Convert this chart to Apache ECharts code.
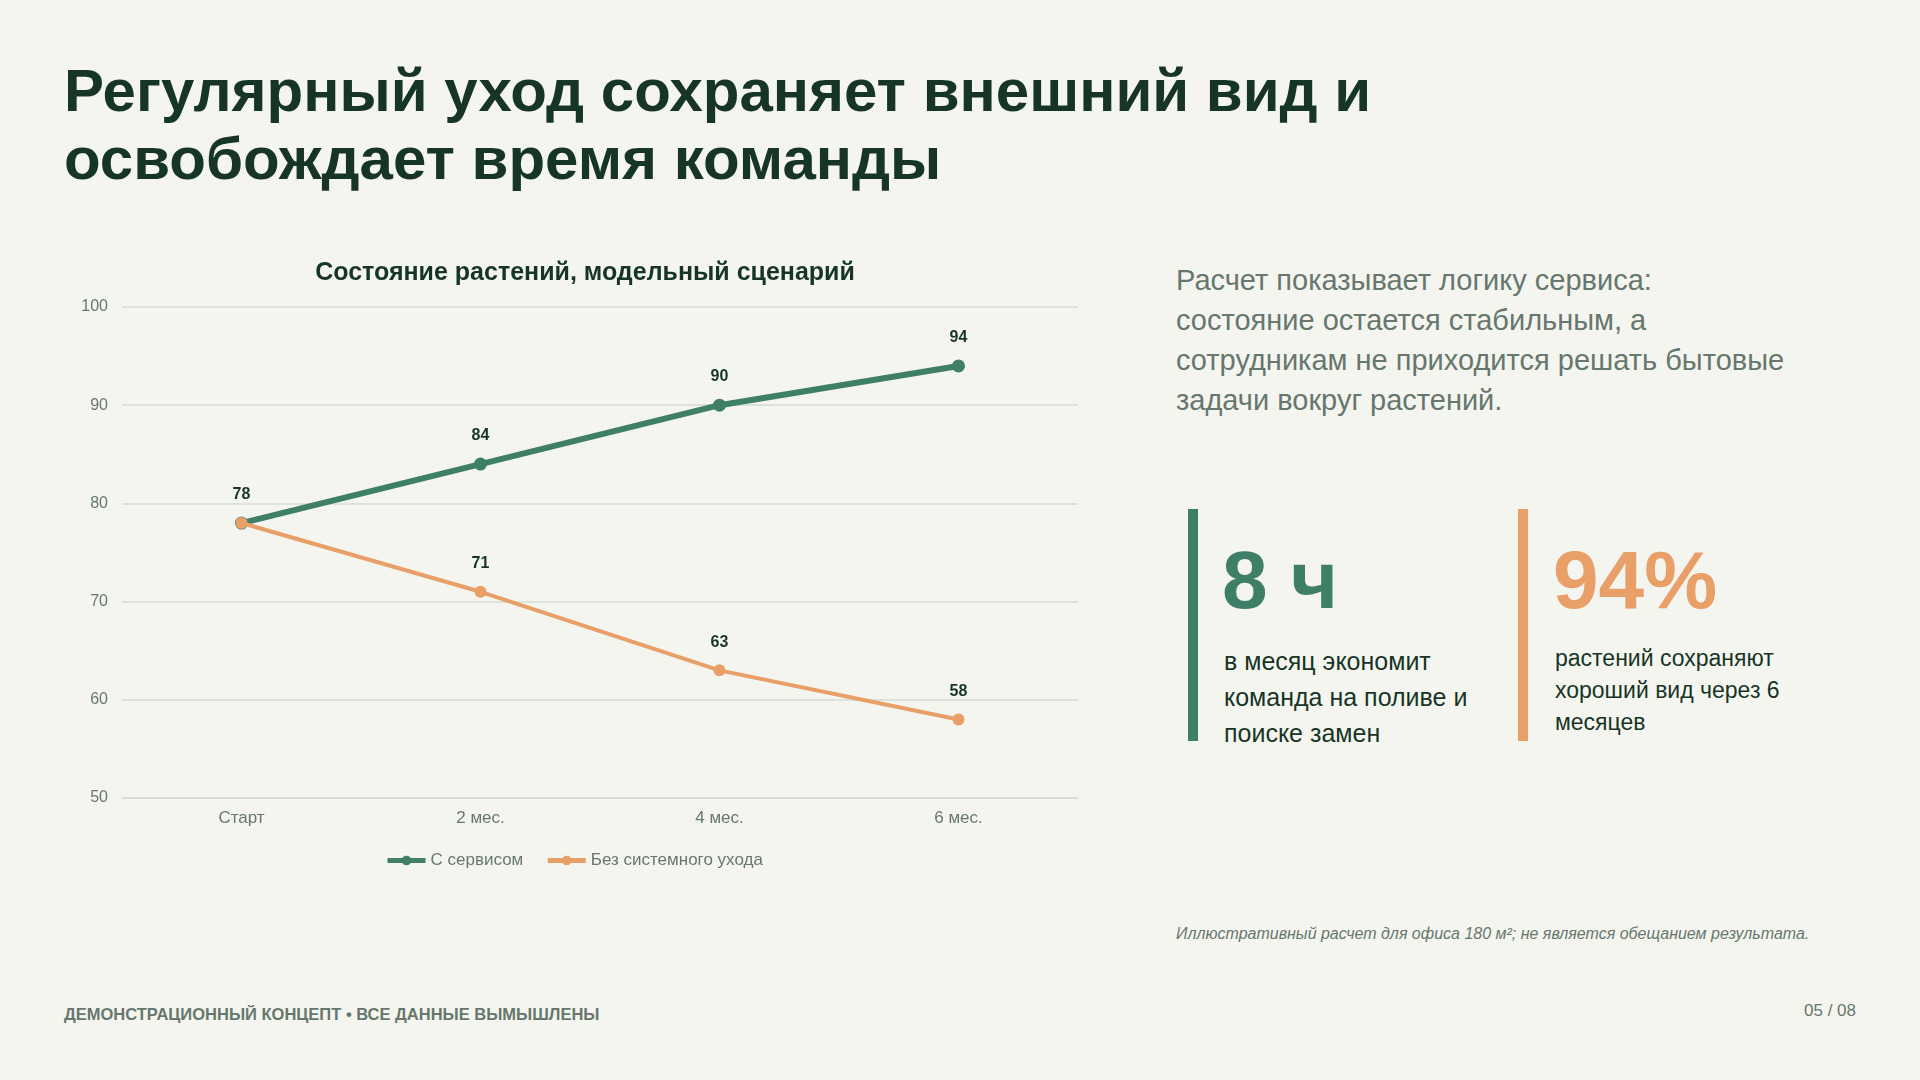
<!DOCTYPE html>
<html><head><meta charset="utf-8">
<script src="https://cdn.jsdelivr.net/npm/echarts@6/dist/echarts.min.js"></script>
<style>
body{margin:0;width:1920px;height:1080px;background:#f5f5f0;font-family:"Liberation Sans",Arial,sans-serif;position:relative;overflow:hidden;color:#173526}
.abs{position:absolute}
h1{position:absolute;left:64px;top:57px;margin:0;font-size:60px;line-height:68px;font-weight:bold;color:#173526}
.lead{left:1176px;top:260px;width:650px;font-size:29px;line-height:40px;color:#66776d}
.bar{width:10px}
.big{font-size:82px;font-weight:bold;line-height:80px}
</style></head><body>
<h1>Регулярный уход сохраняет внешний вид и<br>освобождает время команды</h1>
<div id="chart" class="abs" style="left:0;top:240px;width:1100px;height:650px"></div>
<div class="abs lead">Расчет показывает логику сервиса:<br>состояние остается стабильным, а<br>сотрудникам не приходится решать бытовые<br>задачи вокруг растений.</div>
<div class="abs bar" style="left:1188px;top:509px;height:232px;background:#3f7f67"></div>
<div class="abs big" style="left:1222px;top:540px;color:#3f7f67">8 ч</div>
<div class="abs" style="left:1224px;top:643px;width:300px;font-size:25px;line-height:36px">в месяц экономит команда на поливе и поиске замен</div>
<div class="abs bar" style="left:1518px;top:509px;height:232px;background:#e89f68"></div>
<div class="abs big" style="left:1553px;top:540px;color:#e89f68">94%</div>
<div class="abs" style="left:1555px;top:642px;width:290px;font-size:23px;line-height:32px">растений сохраняют хороший вид через 6 месяцев</div>
<div class="abs" style="left:1176px;top:923px;width:640px;font-size:16px;line-height:22px;font-style:italic;color:#66776d">Иллюстративный расчет для офиса 180 м²; не является обещанием результата.</div>
<div class="abs" style="left:64px;top:1005px;font-size:16.5px;font-weight:bold;color:#66776d">ДЕМОНСТРАЦИОННЫЙ КОНЦЕПТ • ВСЕ ДАННЫЕ ВЫМЫШЛЕНЫ</div>
<div class="abs" style="right:64px;top:1001px;font-size:17px;color:#66776d">05 / 08</div>
<script>
var categories = ['Старт', '2 мес.', '4 мес.', '6 мес.'];
var withService = [78, 84, 90, 94];
var noCare = [78, 71, 63, 58];
var GREEN = '#3f7f67', ORANGE = '#e89f68';

var chart = echarts.init(document.getElementById('chart'));
chart.setOption({
	animation: false,
	title: {
		text: 'Состояние растений, модельный сценарий',
		left: 580, textAlign: 'center', top: 16,
		textStyle: { fontSize: 25, fontWeight: 'bold', color: '#173526', fontFamily: 'Liberation Sans' }
	},
	grid: { left: 122, right: 22, top: 67, height: 491 },
	legend: {
		top: 607, left: 380,
		itemWidth: 38, itemHeight: 12, itemGap: 22,
		lineStyle: { width: 5 },
		textStyle: { fontSize: 17, color: '#66776d', fontFamily: 'Liberation Sans' },
		data: ['С сервисом', 'Без системного ухода']
	},
	xAxis: {
		type: 'category', data: categories, boundaryGap: true,
		axisLine: { lineStyle: { color: '#cfd8d2' } }, axisTick: { show: false },
		axisLabel: { fontSize: 17, color: '#66776d', margin: 12, fontFamily: 'Liberation Sans' }
	},
	yAxis: {
		type: 'value', min: 50, max: 100, interval: 10,
		axisLine: { show: false }, axisTick: { show: false },
		axisLabel: { fontSize: 16, color: '#66776d', margin: 14, fontFamily: 'Liberation Sans' },
		splitLine: { lineStyle: { color: '#d3dbd6', width: 1.5 } }
	},
	series: [
		{
			name: 'С сервисом', type: 'line', data: withService,
			symbol: 'circle', symbolSize: 13, z: 2,
			lineStyle: { color: GREEN, width: 6 }, itemStyle: { color: GREEN },
			label: { show: true, position: 'top', distance: 14, fontSize: 16, fontWeight: 'bold', color: '#173526' }
		},
		{
			name: 'Без системного ухода', type: 'line', data: noCare,
			symbol: 'circle', symbolSize: 12, z: 3,
			lineStyle: { color: ORANGE, width: 4 }, itemStyle: { color: ORANGE },
			label: {
				show: true, position: 'top', distance: 14, fontSize: 16, fontWeight: 'bold', color: '#173526',
				formatter: function (p) { return p.dataIndex === 0 ? '' : p.value; }
			}
		}
	]
});
</script>
</body></html>
